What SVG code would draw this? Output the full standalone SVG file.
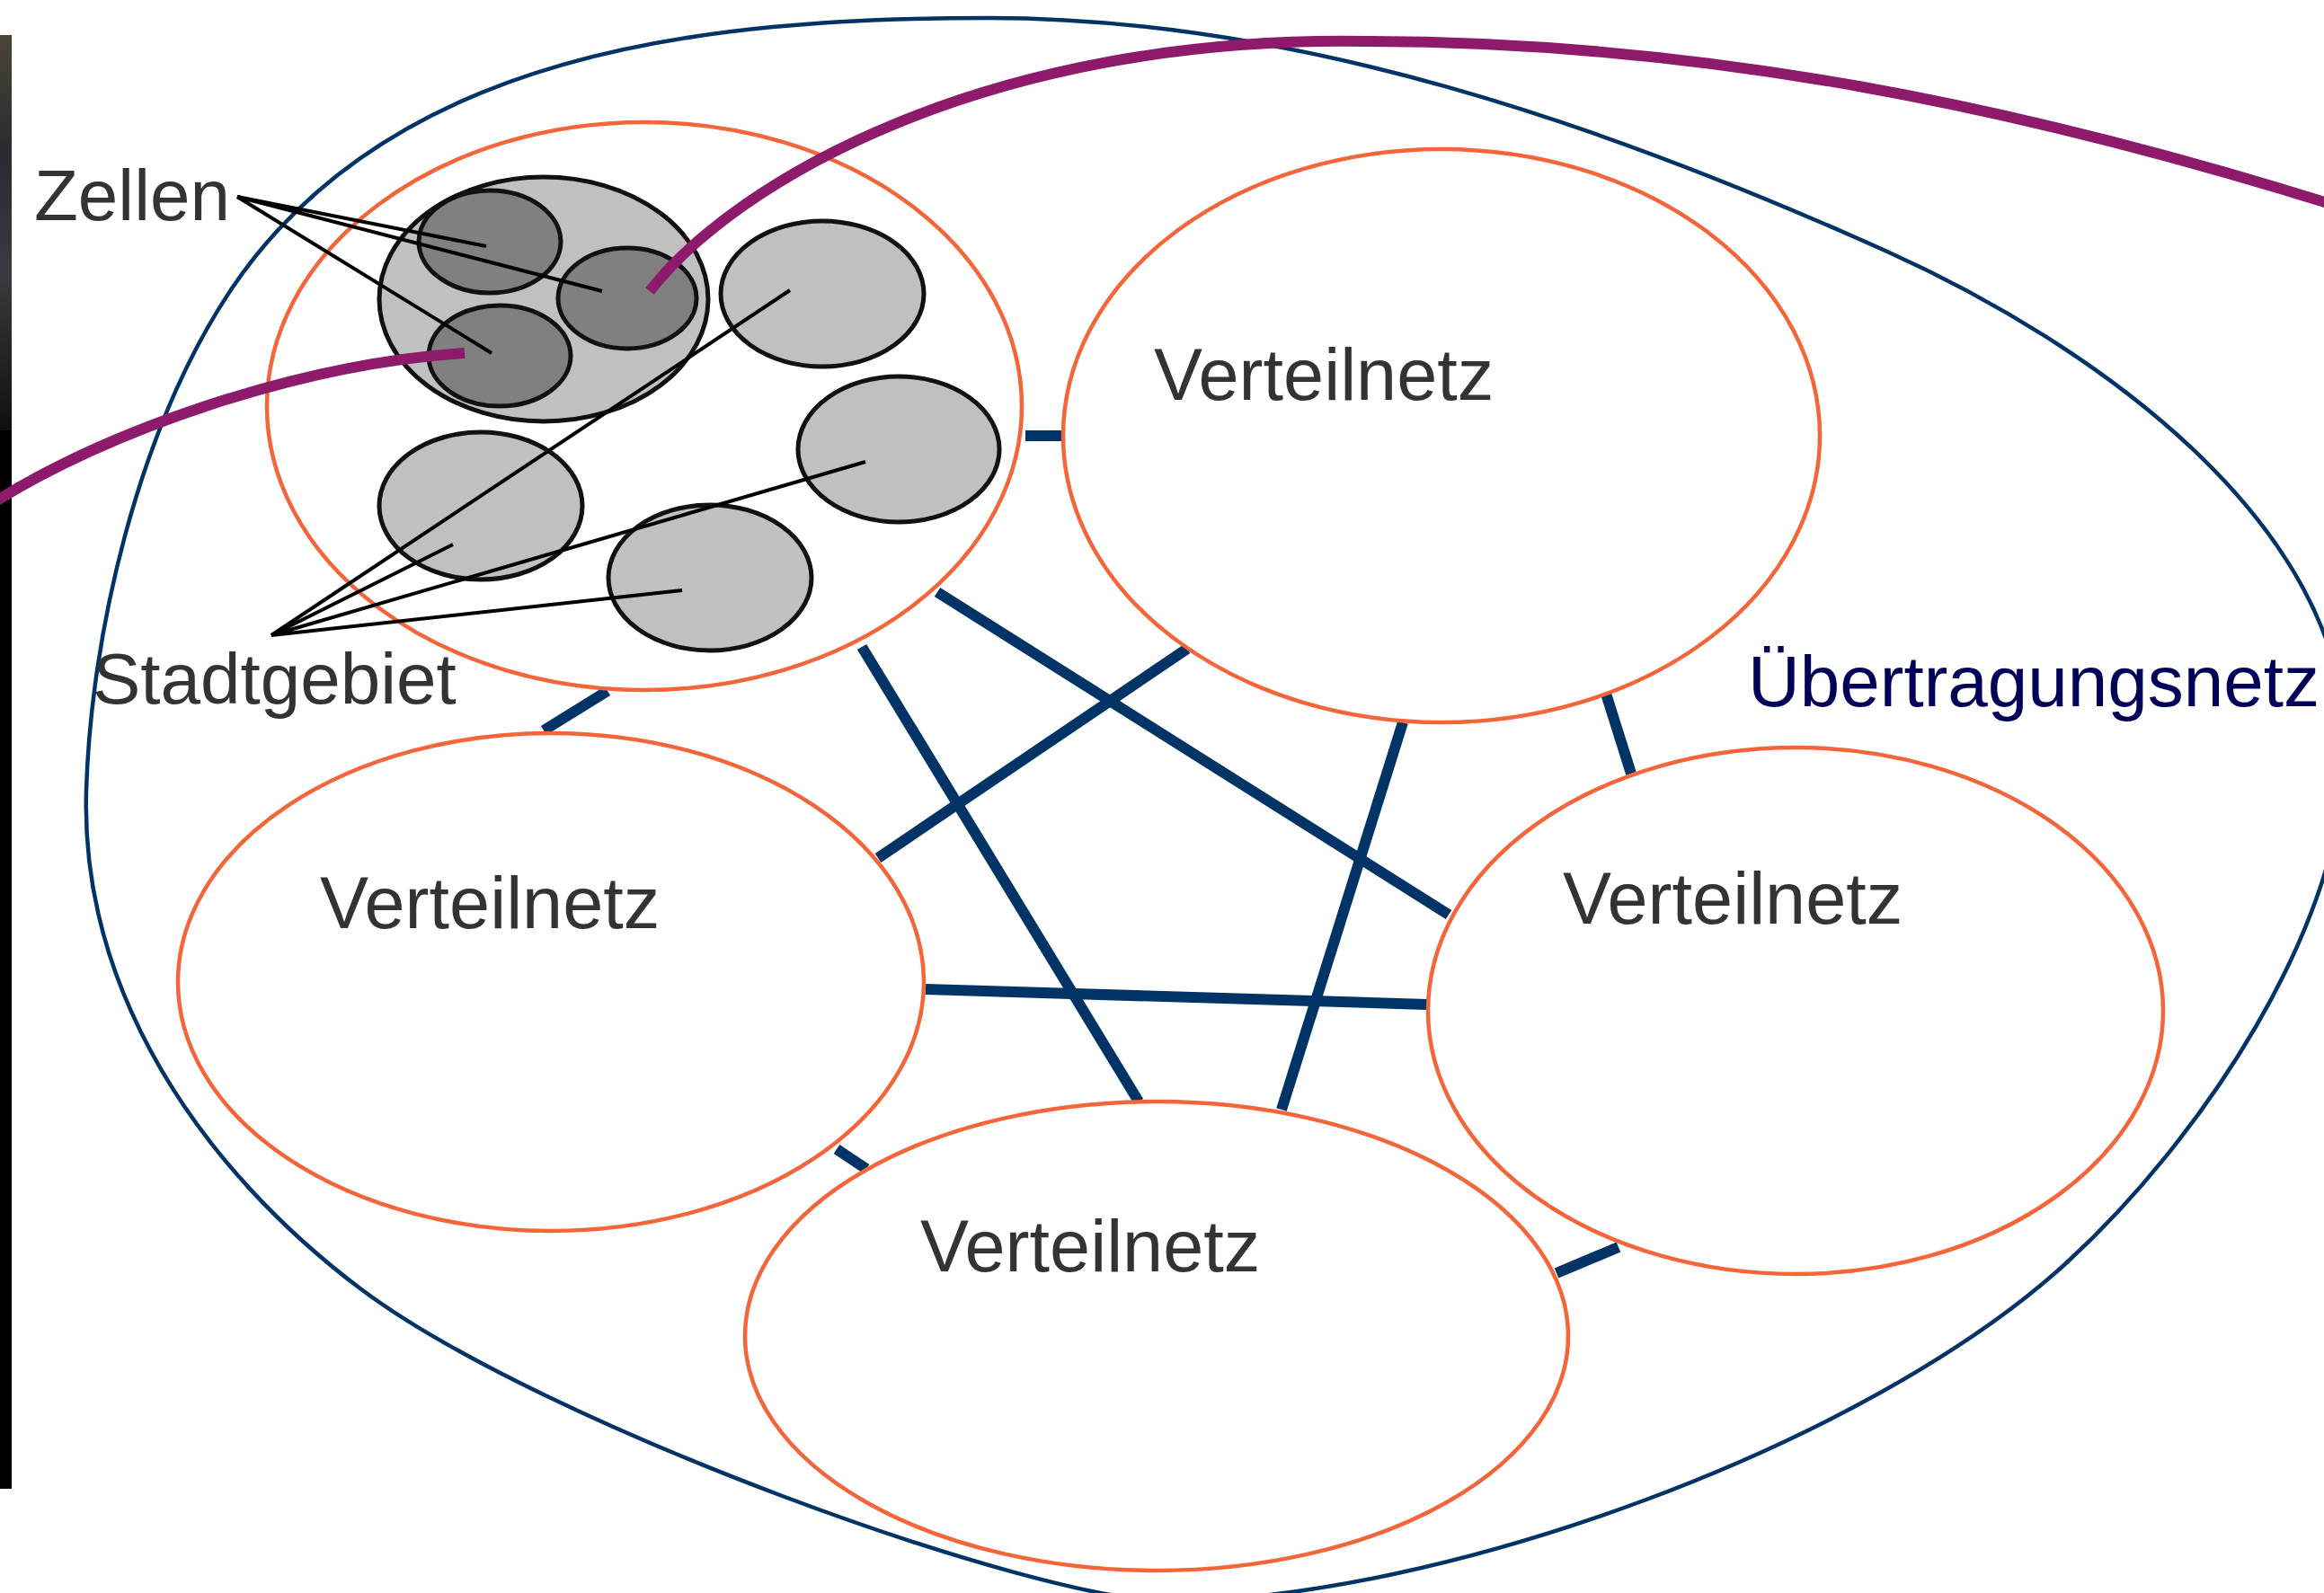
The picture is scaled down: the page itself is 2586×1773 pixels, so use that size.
<svg xmlns="http://www.w3.org/2000/svg" width="2586" height="1773" viewBox="0 0 2586 1773">
<defs>
<linearGradient id="barTex" x1="0" y1="0" x2="0" y2="1">
<stop offset="0" stop-color="#4a4535"/>
<stop offset="0.3" stop-color="#2a2a30"/>
<stop offset="0.6" stop-color="#3a3a40"/>
<stop offset="1" stop-color="#101012"/>
</linearGradient>
<style>
.orange{fill:none;stroke:#f4653a;stroke-width:4.5}
.conn{stroke:#003366;stroke-width:12;fill:none}
.cellL{fill:#c0c0c0;stroke:#111;stroke-width:5}
.cellD{fill:#808080;stroke:#111;stroke-width:5}
.ptr{stroke:#000;stroke-width:4;fill:none}
.purple{fill:none;stroke:#8e1a6c;stroke-width:12}
.lbl{font-family:"Liberation Sans",Arial,sans-serif;font-size:80px;fill:#333333}
.vn{font-size:81px}
</style>
</defs>
<rect width="2586" height="1773" fill="#ffffff"/>
<g id="bar">
<rect x="0" y="39" width="13" height="1618" fill="#000"/>
<rect x="0" y="39" width="13" height="440" fill="url(#barTex)"/>
</g>
<g id="uebertragungsnetz">
<path d="M 96,880 C 101,710 152,479 258,321 C 435.5,57.9 783,20 1100,20 C 1444,20 1787,139 2100,280 C 2327.5,382.5 2610,581 2610,831 C 2610,1031 2448,1269 2300,1405 C 2078,1609 1600,1782 1300,1782 C 1150,1782 602,1585 402,1435 C 223.6,1301 89.3,1103 96,880 Z" fill="none" stroke="#003366" stroke-width="4.5"/>
<text x="1945" y="786" class="lbl" style="fill:#000058">Übertragungsnetz</text>
</g>
<g id="connectors">
<line class="conn" x1="1141" y1="485" x2="1183" y2="485"/>
<line class="conn" x1="676" y1="769" x2="605" y2="813"/>
<line class="conn" x1="1043" y1="659" x2="1612" y2="1018"/>
<line class="conn" x1="959" y1="720" x2="1267" y2="1226"/>
<line class="conn" x1="1321" y1="722" x2="977" y2="955"/>
<line class="conn" x1="1561" y1="804" x2="1426" y2="1235"/>
<line class="conn" x1="1787" y1="772" x2="1815" y2="861"/>
<line class="conn" x1="1030" y1="1101" x2="1588" y2="1118"/>
<line class="conn" x1="931" y1="1279" x2="964" y2="1301"/>
<line class="conn" x1="1732" y1="1417" x2="1801" y2="1388"/>
</g>
<g id="stadtgebiet">
<ellipse class="orange" cx="717" cy="452" rx="420" ry="316"/>
<ellipse class="cellL" cx="605" cy="333" rx="183" ry="136"/>
<ellipse class="cellD" cx="545" cy="269" rx="79" ry="57"/>
<ellipse class="cellD" cx="698" cy="332" rx="77" ry="56"/>
<ellipse class="cellD" cx="556" cy="396" rx="79" ry="56"/>
<ellipse class="cellL" cx="915" cy="327" rx="113" ry="81"/>
<ellipse class="cellL" cx="1000" cy="500" rx="112" ry="81"/>
<ellipse class="cellL" cx="535" cy="563" rx="113" ry="82"/>
<ellipse class="cellL" cx="790" cy="643" rx="113" ry="81"/>
</g>
<g id="verteilnetz-oben">
<ellipse class="orange" cx="1604" cy="485" rx="421" ry="319"/>
<text x="1284" y="445" class="lbl vn">Verteilnetz</text>
</g>
<g id="verteilnetz-links">
<ellipse class="orange" cx="613" cy="1093" rx="415" ry="277"/>
<text x="356" y="1033" class="lbl vn">Verteilnetz</text>
</g>
<g id="verteilnetz-rechts">
<ellipse class="orange" cx="1998" cy="1125" rx="409" ry="293"/>
<text x="1739" y="1028" class="lbl vn">Verteilnetz</text>
</g>
<g id="verteilnetz-unten">
<ellipse class="orange" cx="1287" cy="1487" rx="458" ry="261"/>
<text x="1024" y="1415" class="lbl vn">Verteilnetz</text>
</g>
<g id="zellen-label">
<text x="38" y="245" class="lbl">Zellen</text>
<polyline class="ptr" points="541,274 264,219 670,324"/>
<polyline class="ptr" points="264,219 547,393"/>
</g>
<g id="stadtgebiet-label">
<text x="103" y="783" class="lbl">Stadtgebiet</text>
<polyline class="ptr" points="879,323 302,707 504,606"/>
<polyline class="ptr" points="963,514 302,707 759,657"/>
</g>
<g id="leitungen">
<path class="purple" d="M -5,558 C 120,480 330,405 517,393"/>
<path class="purple" d="M 723,324 C 820,200 1100,40 1517,46 C 1900,46 2250,120 2590,226"/>
</g>
</svg>
